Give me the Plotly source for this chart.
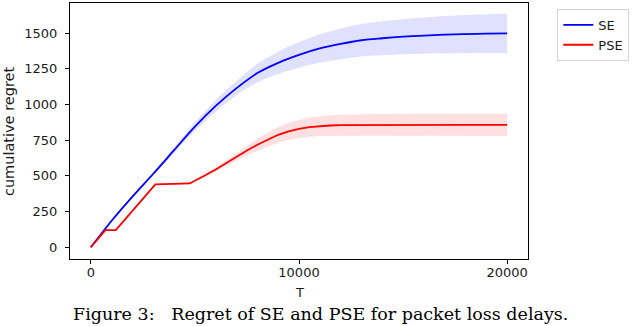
import plotly.graph_objects as go

# values
t_se = [0, 1000, 2000, 3000, 4000, 5000, 6000, 7000, 8000, 9000, 10000,
        11000, 12000, 13000, 14000, 15000, 16000, 17000, 18000, 19000, 20000]
se_mean = [0, 186, 355, 515, 680, 845, 990, 1115, 1220, 1292, 1348,
           1393, 1425, 1450, 1464, 1475, 1483, 1489, 1493, 1496, 1498]
se_spread = [0, 3, 6, 12, 20, 30, 42, 50, 65, 78, 90,
             100, 108, 114, 119, 123, 127, 131, 134, 136, 137]

t_pse = [0, 700, 1200, 3100, 4750, 5000, 5500, 6000, 6500, 7000, 7500,
         8000, 8500, 9000, 9500, 10000, 10500, 11000, 11500, 12000,
         13000, 14000, 16000, 18000, 20000]
pse_mean = [0, 120, 120, 440, 447, 465, 505, 545, 590, 635, 678,
            718, 755, 788, 812, 830, 842, 849, 853, 856,
            857, 858, 858, 858, 858]
pse_spread = [0, 2, 2, 4, 6, 8, 11, 15, 21, 28, 35,
              42, 49, 55, 60, 64, 67, 70, 72, 73,
              75, 76, 77, 78, 78]


def add_series(fig, t, mean, spread, color, fill, name, shape):
    lower = [m - s for m, s in zip(mean, spread)]
    upper = [m + s for m, s in zip(mean, spread)]
    fig.add_trace(go.Scatter(x=t, y=lower, mode='lines', line=dict(width=0, shape=shape),
                             showlegend=False, hoverinfo='skip'))
    fig.add_trace(go.Scatter(x=t, y=upper, mode='lines', line=dict(width=0, shape=shape),
                             fill='tonexty', fillcolor=fill,
                             showlegend=False, hoverinfo='skip'))
    fig.add_trace(go.Scatter(x=t, y=mean, mode='lines', name=name,
                             line=dict(color=color, width=1.8, shape=shape)))


fig = go.Figure()
add_series(fig, t_se, se_mean, se_spread, 'blue', 'rgba(0,0,255,0.12)', 'SE', 'spline')
add_series(fig, t_pse, pse_mean, pse_spread, 'red', 'rgba(255,0,0,0.12)', 'PSE', 'linear')

axis_style = dict(showline=True, linecolor='black', linewidth=1, mirror=True,
                  ticks='outside', ticklen=4, tickcolor='black', showgrid=False,
                  zeroline=False, tickfont=dict(family='DejaVu Sans', size=13, color='#1a1a1a'))

fig.update_xaxes(range=[-1000, 21000], tickvals=[0, 10000, 20000],
                 ticktext=['0', '10000', '20000'], ticklabelstandoff=-3, **axis_style)
fig.update_yaxes(range=[-82, 1711], tickvals=[0, 250, 500, 750, 1000, 1250, 1500],
                 ticklabelstandoff=5, **axis_style)

fig.update_layout(
    width=640, height=326,
    margin=dict(l=70, r=112, t=3, b=67, autoexpand=False),
    plot_bgcolor='white', paper_bgcolor='white',
    legend=dict(x=1.064, y=0.977, xanchor='left', yanchor='top', traceorder='normal',
                bordercolor='#d4d4d4', borderwidth=1,
                font=dict(family='DejaVu Sans', size=13, color='#1a1a1a')),
    annotations=[
        dict(text='T', x=0.5, y=-0.13, xref='paper', yref='paper',
             xanchor='center', yanchor='middle', showarrow=False,
             font=dict(family='DejaVu Sans', size=13, color='#1a1a1a')),
        dict(text='cumulative regret', x=-0.133, y=0.5, xref='paper', yref='paper',
             textangle=-90, xanchor='center', yanchor='middle', showarrow=False,
             font=dict(family='DejaVu Sans', size=14.5, color='#1a1a1a')),
        dict(text='Figure 3:&nbsp;&nbsp;&nbsp;Regret of SE and PSE for packet loss delays.',
             x=0.546, y=-0.215, xref='paper', yref='paper',
             xanchor='center', yanchor='middle', showarrow=False,
             font=dict(family='DejaVu Serif', size=17.5, color='black')),
    ],
)

# the page keeps the browser's default body margin otherwise
fig.write_html("out.html", config={'displayModeBar': False},
               post_script="document.body.style.margin='0';")
